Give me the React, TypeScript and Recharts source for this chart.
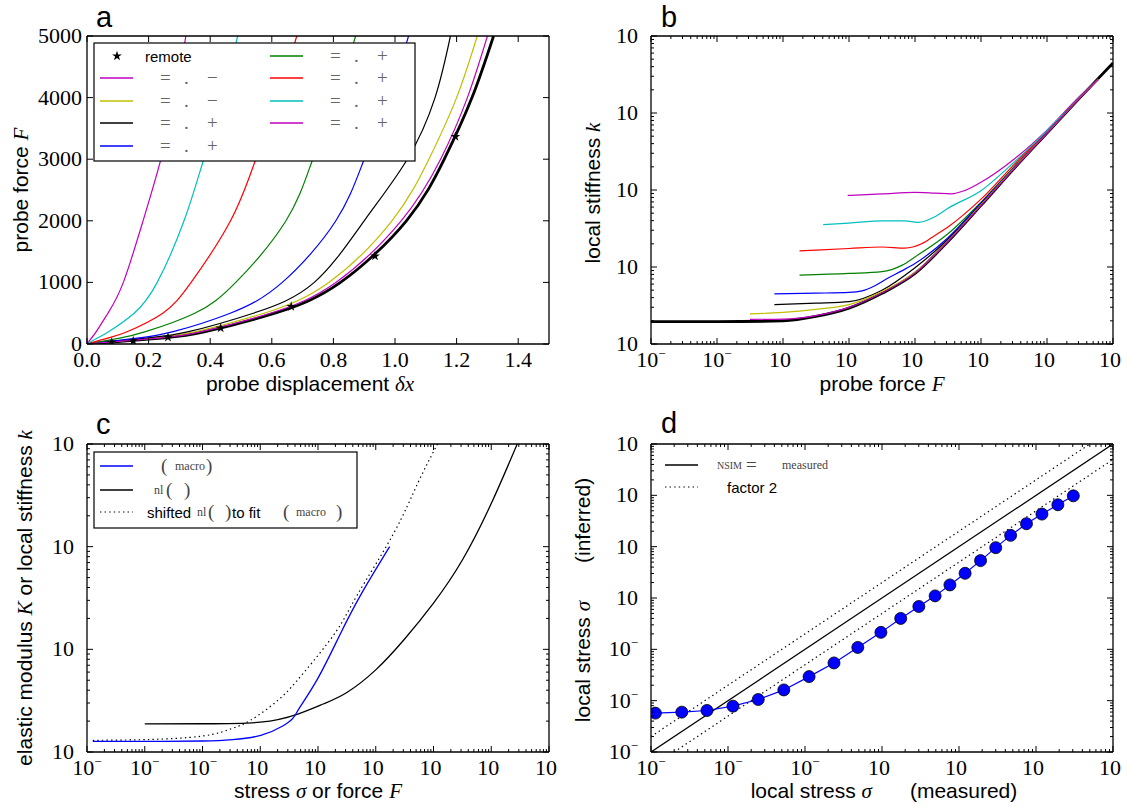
import React from "react";
import { ComposedChart, Line, Scatter, XAxis, YAxis, Symbols } from "recharts";

const PAGE_W = 1127;
const PAGE_H = 810;

const C = {
  b: "#0000ff",
  g: "#008000",
  r: "#ff0000",
  c: "#00bfbf",
  m: "#bf00bf",
  y: "#bfbf00",
  k: "#000000",
};

const SERIF = "'Liberation Serif', 'DejaVu Serif', serif";
const SANS = "'Liberation Sans', Arial, sans-serif";
const GRAY = "#666";

// ---- panel a: probe force F against probe displacement dx ----
const aForce = [0, 100, 200, 500, 1000, 2000, 3000, 4000, 5000];
const aDxMagenta1 = [0, 0.015, 0.03, 0.068, 0.118, 0.182, 0.24, 0.285, 0.321];
const aDxCyan = [0, 0.035, 0.07, 0.153, 0.228, 0.315, 0.379, 0.44, 0.489];
const aDxRed = [0, 0.07, 0.13, 0.246, 0.338, 0.466, 0.548, 0.62, 0.681];
const aDxGreen = [0, 0.11, 0.19, 0.35, 0.483, 0.646, 0.733, 0.81, 0.872];
const aDxBlue = [0, 0.17, 0.28, 0.465, 0.634, 0.808, 0.9, 0.98, 1.044];
const aDxBlack = [0, 0.2, 0.33, 0.54, 0.738, 0.9, 1.04, 1.13, 1.18];
const aDxYellow = [0, 0.22, 0.355, 0.575, 0.785, 0.99, 1.11, 1.2, 1.267];
const aDxMagenta2 = [0, 0.24, 0.372, 0.595, 0.808, 1.02, 1.148, 1.235, 1.3];
const aDxRemote = [0, 0.252, 0.384, 0.61, 0.823, 1.037, 1.16, 1.25, 1.32];
const aStarDx = [0.08, 0.15, 0.263, 0.434, 0.663, 0.935, 1.196];
const aStarF = [25, 50, 108, 259, 609, 1428, 3368];
const aXTicks = [0, 0.2, 0.4, 0.6, 0.8, 1.0, 1.2, 1.4];
const aXLabels = ["0.0", "0.2", "0.4", "0.6", "0.8", "1.0", "1.2", "1.4"];
const aYTicks = [0, 1000, 2000, 3000, 4000, 5000];
const aYLabels = ["0", "1000", "2000", "3000", "4000", "5000"];

// ---- panel b: local stiffness k against probe force F ----
const bXExp = [-2, -1, 0, 1, 2, 3, 4, 5];
const bYExp = [0, 1, 2, 3, 4];
const bRemoteF = [0.01, 0.1, 1, 3.16, 10, 31.6, 100, 316, 1000, 3162, 10000, 31620, 100000];
const bRemoteK = [1.95, 1.95, 2.0, 2.28, 2.92, 4.55, 8.24, 21.4, 63.1, 190, 550, 1585, 4467];
const bMagenta2F = [0.316, 1, 3.16, 10, 31.6, 100, 316, 1000, 3162, 10000, 31620, 60000];
const bMagenta2K = [2.09, 2.11, 2.34, 2.99, 4.62, 8.32, 21.6, 63.1, 190, 550, 1585, 2750];
const bYellowF = [0.316, 1, 3.16, 10, 31.6, 100, 316, 1000, 3162, 10000, 31620, 60000];
const bYellowK = [2.46, 2.57, 2.82, 3.24, 4.79, 8.5, 21.9, 64.6, 192, 552, 1590, 2750];
const bBlackF = [0.74, 3.16, 10, 31.6, 100, 316, 1000, 3162, 10000, 31620, 60000];
const bBlackK = [3.24, 3.39, 3.55, 5.0, 9.8, 22.9, 66, 193, 552, 1590, 2750];
const bBlueF = [0.74, 3.16, 10, 15.8, 25.1, 39.8, 63, 100, 316, 1000, 3162, 10000, 31620, 60000];
const bBlueK = [4.47, 4.57, 4.68, 4.9, 5.75, 7.24, 8.9, 11.1, 24, 68, 195, 555, 1590, 2750];
const bGreenF = [1.78, 10, 31.6, 63, 100, 316, 1000, 3162, 10000, 31620, 60000];
const bGreenK = [7.85, 8.24, 8.7, 10.5, 13.5, 27, 69.2, 200, 555, 1590, 2750];
const bRedF = [1.78, 10, 31.6, 70, 126, 200, 316, 1000, 3162, 10000, 31620, 60000];
const bRedK = [16.2, 17.4, 18.2, 17.6, 20, 25.7, 33.1, 76, 214, 565, 1590, 2750];
const bCyanF = [4.07, 10, 31.6, 70, 112, 200, 316, 1000, 3162, 10000, 31620, 60000];
const bCyanK = [35.5, 37.2, 39.8, 39.8, 38, 45, 58, 98, 229, 589, 1622, 2750];
const bMagenta1F = [9.55, 31.6, 100, 200, 355, 562, 1000, 3162, 10000, 31620, 60000];
const bMagenta1K = [85, 89, 93, 91, 89, 98, 126, 251, 600, 1660, 2750];

// ---- panel c: modulus K(sigma_macro) and stiffness k_nl(F) ----
const cXExp = [-3, -2, -1, 0, 1, 2, 3, 4, 5];
const cYExp = [0, 1, 2, 3];
const cMacroS = [0.00126, 0.01, 0.1, 0.33, 1.02, 2.4, 3.7, 4.9, 10, 23.4, 55, 174];
const cMacroK = [1.27, 1.27, 1.28, 1.32, 1.45, 1.78, 2.14, 2.75, 5.25, 13.5, 33.9, 100];
const cNlF = [0.01, 0.1, 1, 4.47, 12.6, 31.6, 100, 316, 1000, 3162, 10000, 28200];
const cNlK = [1.875, 1.884, 1.95, 2.34, 2.95, 3.8, 6.31, 12.6, 28.2, 74.1, 263, 1000];
const cShiftF = [0.00126, 0.01, 0.1, 0.33, 0.68, 2.09, 5.62, 20.4, 47.9, 200, 537, 1175];
const cShiftK = [1.3, 1.32, 1.43, 1.7, 2.04, 3.24, 5.89, 14.8, 33.9, 132, 417, 1000];

// ---- panel d: inferred against measured local stress ----
const dXExp = [-3, -2, -1, 0, 1, 2, 3];
const dYExp = [-3, -2, -1, 0, 1, 2, 3];
const dMeasured = [
  0.00114, 0.00251, 0.00533, 0.0116, 0.0247, 0.0531, 0.113, 0.238, 0.485, 0.968, 1.75,
  3.01, 4.9, 7.62, 12.0, 19.05, 30.0, 46.8, 75.2, 119.4, 192.3, 305.5,
];
const dInferred = [
  0.00572, 0.00598, 0.00644, 0.00782, 0.01054, 0.0162, 0.0294, 0.0543, 0.109, 0.214, 0.4,
  0.684, 1.1, 1.8, 3.03, 5.35, 9.57, 16.6, 28.0, 43.1, 65.5, 97.7,
];
const dEqualX = [0.001, 1000];
const dEqualY = [0.001, 1000];
const dUpperX = [0.001, 500];
const dUpperY = [0.002, 1000];
const dLowerX = [0.002, 1000];
const dLowerY = [0.001, 500];

const pts = (xs: number[], ys: number[]) => xs.map((x, i) => ({ x, y: ys[i] }));

const isDecade = (v: number) => Math.abs(Math.log10(v) - Math.round(Math.log10(v))) < 1e-6;

function logTicks(exps: number[]) {
  const out: number[] = [];
  exps.forEach((e, i) => {
    out.push(Math.pow(10, e));
    if (i < exps.length - 1) {
      for (let k = 2; k < 10; k++) out.push(+(k * Math.pow(10, e)).toPrecision(6));
    }
  });
  return out;
}

type Spec = {
  log: boolean;
  domain: [number, number];
  ticks: number[];
  labels?: string[];
};

const linSpec = (ticks: number[], labels: string[], domain: [number, number]): Spec => ({
  log: false,
  domain,
  ticks,
  labels,
});
const logSpec = (exps: number[]): Spec => ({
  log: true,
  domain: [Math.pow(10, exps[0]), Math.pow(10, exps[exps.length - 1])],
  ticks: logTicks(exps),
});

function tickLabel(spec: Spec, v: number): React.ReactNode {
  if (!spec.log) return spec.labels ? spec.labels[spec.ticks.indexOf(v)] ?? null : null;
  if (!isDecade(v)) return null;
  const e = Math.round(Math.log10(v));
  if (e < 0)
    return (
      <>
        10
        <tspan dy={-9} fontSize={13}>
          −
        </tspan>
      </>
    );
  return "10";
}

function makeTick(side: "bottom" | "top" | "left" | "right", spec: Spec) {
  return (p: any) => {
    const v = p.payload.value;
    const major = !spec.log || isDecade(v);
    const len = major ? 6 : 3;
    const { x, y } = p;
    const l = { x1: x, y1: y, x2: x, y2: y };
    if (side === "bottom") l.y2 = y - len;
    if (side === "top") l.y2 = y + len;
    if (side === "left") l.x2 = x + len;
    if (side === "right") l.x2 = x - len;
    let label: React.ReactNode = null;
    if (side === "bottom" || side === "left") {
      const txt = tickLabel(spec, v);
      if (txt !== null && txt !== undefined) {
        const neg = spec.log && Math.log10(v) < -0.5;
        if (side === "bottom") {
          label = (
            <text x={x + (spec.log && !neg ? -3 : 0)} y={y + 23} textAnchor="middle" fontFamily={SERIF} fontSize={22} fill="#000">
              {txt}
            </text>
          );
        } else {
          label = (
            <text x={x - (spec.log ? 13 : 5)} y={y + 7} textAnchor="end" fontFamily={SERIF} fontSize={22} fill="#000">
              {txt}
            </text>
          );
        }
      }
    }
    return (
      <g>
        <line {...l} stroke="#000" strokeWidth={1} />
        {label}
      </g>
    );
  };
}

const AXIS_LINE = { stroke: "#000", strokeWidth: 1.3 };

function Panel({ box, xs, ys, children }: { box: number[]; xs: Spec; ys: Spec; children: React.ReactNode }) {
  const [L, T, R, B] = box;
  const margin = { top: T - 10, right: PAGE_W - R - 10, bottom: PAGE_H - B - 30, left: L - 40 };
  const common = {
    type: "number" as const,
    interval: 0 as const,
    allowDataOverflow: true,
    tickSize: 0,
    tickMargin: 0,
    tickLine: false,
    axisLine: AXIS_LINE,
  };
  return (
    <div style={{ position: "absolute", left: 0, top: 0 }}>
      <ComposedChart width={PAGE_W} height={PAGE_H} margin={margin}>
        <XAxis {...common} dataKey="x" scale={xs.log ? "log" : "linear"} domain={xs.domain} ticks={xs.ticks} height={30} tick={makeTick("bottom", xs)} />
        <XAxis {...common} xAxisId="top" orientation="top" dataKey="x" scale={xs.log ? "log" : "linear"} domain={xs.domain} ticks={xs.ticks} height={10} tick={makeTick("top", xs)} />
        <YAxis {...common} dataKey="y" scale={ys.log ? "log" : "linear"} domain={ys.domain} ticks={ys.ticks} width={40} tick={makeTick("left", ys)} />
        <YAxis {...common} yAxisId="right" orientation="right" dataKey="y" scale={ys.log ? "log" : "linear"} domain={ys.domain} ticks={ys.ticks} width={10} tick={makeTick("right", ys)} />
        {children}
      </ComposedChart>
    </div>
  );
}

const A_BOX = [87, 36, 549, 344];
const B_BOX = [651, 36, 1113, 344];
const C_BOX = [87, 444, 549, 752];
const D_BOX = [651, 444, 1113, 752];

const aCurves = [
  { dx: aDxRemote, color: C.k, w: 2.8 },
  { dx: aDxMagenta1, color: C.m, w: 1.2 },
  { dx: aDxYellow, color: C.y, w: 1.2 },
  { dx: aDxBlack, color: C.k, w: 1.2 },
  { dx: aDxBlue, color: C.b, w: 1.2 },
  { dx: aDxGreen, color: C.g, w: 1.2 },
  { dx: aDxRed, color: C.r, w: 1.2 },
  { dx: aDxCyan, color: C.c, w: 1.2 },
  { dx: aDxMagenta2, color: C.m, w: 1.2 },
];

const bCurves = [
  { f: bRemoteF, k: bRemoteK, color: C.k, w: 2.8 },
  { f: bMagenta1F, k: bMagenta1K, color: C.m, w: 1.2 },
  { f: bCyanF, k: bCyanK, color: C.c, w: 1.2 },
  { f: bRedF, k: bRedK, color: C.r, w: 1.2 },
  { f: bGreenF, k: bGreenK, color: C.g, w: 1.2 },
  { f: bBlueF, k: bBlueK, color: C.b, w: 1.2 },
  { f: bBlackF, k: bBlackK, color: C.k, w: 1.2 },
  { f: bYellowF, k: bYellowK, color: C.y, w: 1.2 },
  { f: bMagenta2F, k: bMagenta2K, color: C.m, w: 1.2 },
];

const starShape = (p: any) => <Symbols cx={p.cx} cy={p.cy} type="star" size={30} fill="#000" />;

const DOTS = "1.4 3.2";

function Overlay() {
  const sub = (x: number, y: number, s: string, size = 12) => (
    <text x={x} y={y + 4} fontFamily={SERIF} fontSize={size} fill="#444">
      {s}
    </text>
  );
  const sym = (x: number, y: number, s: string, fill = "#444") => (
    <text x={x} y={y + 6} fontFamily={SERIF} fontSize={19} fill={fill}>
      {s}
    </text>
  );
  const aRows = [56, 78, 101, 123, 146];
  const aLeft = [
    { color: C.m, sign: "−" },
    { color: C.y, sign: "−" },
    { color: C.k, sign: "+" },
    { color: C.b, sign: "+" },
  ];
  const aRight = [
    { color: C.g, sign: "+" },
    { color: C.r, sign: "+" },
    { color: C.c, sign: "+" },
    { color: C.m, sign: "+" },
  ];
  const it = { fontFamily: SERIF, fontStyle: "italic" as const };
  return (
    <svg width={PAGE_W} height={PAGE_H} style={{ position: "absolute", left: 0, top: 0 }}>
      {/* panel letters */}
      <g fontFamily={SANS} fontSize={29} fill="#000">
        <text x={96} y={27}>a</text>
        <text x={661} y={27}>b</text>
        <text x={96} y={434}>c</text>
        <text x={661} y={433}>d</text>
      </g>
      {/* axis titles */}
      <g fontFamily={SANS} fontSize={21} fill="#000">
        <text x={310} y={391} textAnchor="middle">
          probe displacement <tspan {...it}>δx</tspan>
        </text>
        <text transform="rotate(-90)" x={-190} y={28} textAnchor="middle">
          probe force <tspan {...it}>F</tspan>
        </text>
        <text x={882} y={391} textAnchor="middle">
          probe force <tspan {...it}>F</tspan>
        </text>
        <text transform="rotate(-90)" x={-193} y={600} textAnchor="middle">
          local stiffness <tspan {...it}>k</tspan>
        </text>
        <text x={318} y={798} textAnchor="middle">
          stress <tspan {...it}>σ</tspan> or force <tspan {...it}>F</tspan>
        </text>
        <text transform="rotate(-90)" x={-598} y={32} textAnchor="middle">
          elastic modulus <tspan {...it}>K</tspan> or local stiffness <tspan {...it}>k</tspan>
        </text>
        <text x={884} y={798} textAnchor="middle">
          local stress <tspan {...it}>σ</tspan>
          <tspan dx={38}>(measured)</tspan>
        </text>
        <text transform="rotate(-90)" x={-600} y={590} textAnchor="middle">
          local stress <tspan {...it}>σ</tspan>
          <tspan dx={38}>(inferred)</tspan>
        </text>
      </g>

      {/* legend a */}
      <rect x={94} y={43} width={321} height={118} fill="#fff" stroke="#000" strokeWidth={1.2} />
      <Symbols cx={117} cy={aRows[0]} type="star" size={30} fill="#000" />
      <text x={145} y={aRows[0] + 6} fontFamily={SANS} fontSize={15}>
        remote
      </text>
      {aLeft.map((e, i) => (
        <g key={"l" + i}>
          <line x1={100} x2={133} y1={aRows[i + 1]} y2={aRows[i + 1]} stroke={e.color} strokeWidth={1.5} />
          {sym(160, aRows[i + 1], "=", GRAY)}
          {sym(184, aRows[i + 1], ".", GRAY)}
          {sym(207, aRows[i + 1], e.sign, GRAY)}
        </g>
      ))}
      {aRight.map((e, i) => (
        <g key={"r" + i}>
          <line x1={270} x2={303} y1={aRows[i]} y2={aRows[i]} stroke={e.color} strokeWidth={1.5} />
          {sym(330, aRows[i], "=", GRAY)}
          {sym(354, aRows[i], ".", GRAY)}
          {sym(377, aRows[i], e.sign, GRAY)}
        </g>
      ))}

      {/* legend c */}
      <rect x={94} y={452} width={263} height={76} fill="#fff" stroke="#000" strokeWidth={1.2} />
      <line x1={100} x2={133} y1={466} y2={466} stroke={C.b} strokeWidth={1.5} />
      {sym(161, 466, "(")}
      {sub(175, 466, "macro")}
      {sym(206, 466, ")")}
      <line x1={100} x2={133} y1={490} y2={490} stroke={C.k} strokeWidth={1.5} />
      {sub(154, 490, "nl")}
      {sym(166, 490, "(")}
      {sym(184, 490, ")")}
      <line x1={100} x2={133} y1={512} y2={512} stroke={C.k} strokeWidth={1.2} strokeDasharray={DOTS} />
      <text x={147} y={518} fontFamily={SANS} fontSize={15}>
        shifted
      </text>
      {sub(197, 512, "nl")}
      {sym(208, 512, "(")}
      {sym(225, 512, ")")}
      <text x={232} y={518} fontFamily={SANS} fontSize={15}>
        to fit
      </text>
      {sym(283, 512, "(")}
      {sub(296, 512, "macro")}
      {sym(336, 512, ")")}

      {/* legend d */}
      <line x1={665} x2={698} y1={465} y2={465} stroke={C.k} strokeWidth={1.3} />
      {sub(717, 465, "NSIM", 10)}
      {sym(746, 465, "=")}
      {sub(782, 465, "measured")}
      <line x1={665} x2={698} y1={487} y2={487} stroke={C.k} strokeWidth={1.2} strokeDasharray={DOTS} />
      <text x={727} y={493} fontFamily={SANS} fontSize={15}>
        factor 2
      </text>
    </svg>
  );
}

export default function App() {
  return (
    <div style={{ position: "absolute", left: 0, top: 0, width: PAGE_W, height: PAGE_H, background: "#fff" }}>
      <Panel box={A_BOX} xs={linSpec(aXTicks, aXLabels, [0, 1.5])} ys={linSpec(aYTicks, aYLabels, [0, 5000])}>
        {aCurves.map((c, i) => (
          <Line key={"a" + i} data={pts(c.dx, aForce)} dataKey="y" type="natural" stroke={c.color} strokeWidth={c.w} dot={false} activeDot={false} isAnimationActive={false} />
        ))}
        <Scatter data={pts(aStarDx, aStarF)} dataKey="y" shape={starShape} isAnimationActive={false} />
      </Panel>
      <Panel box={B_BOX} xs={logSpec(bXExp)} ys={logSpec(bYExp)}>
        {bCurves.map((c, i) => (
          <Line key={"b" + i} data={pts(c.f, c.k)} dataKey="y" type="monotone" stroke={c.color} strokeWidth={c.w} dot={false} activeDot={false} isAnimationActive={false} />
        ))}
      </Panel>
      <Panel box={C_BOX} xs={logSpec(cXExp)} ys={logSpec(cYExp)}>
        <Line data={pts(cNlF, cNlK)} dataKey="y" type="natural" stroke={C.k} strokeWidth={1.3} dot={false} activeDot={false} isAnimationActive={false} />
        <Line data={pts(cShiftF, cShiftK)} dataKey="y" type="natural" stroke={C.k} strokeWidth={1.2} strokeDasharray={DOTS} dot={false} activeDot={false} isAnimationActive={false} />
        <Line data={pts(cMacroS, cMacroK)} dataKey="y" type="natural" stroke={C.b} strokeWidth={1.3} dot={false} activeDot={false} isAnimationActive={false} />
      </Panel>
      <Panel box={D_BOX} xs={logSpec(dXExp)} ys={logSpec(dYExp)}>
        <Line data={pts(dEqualX, dEqualY)} dataKey="y" type="linear" stroke={C.k} strokeWidth={1.3} dot={false} activeDot={false} isAnimationActive={false} />
        <Line data={pts(dUpperX, dUpperY)} dataKey="y" type="linear" stroke={C.k} strokeWidth={1.2} strokeDasharray={DOTS} dot={false} activeDot={false} isAnimationActive={false} />
        <Line data={pts(dLowerX, dLowerY)} dataKey="y" type="linear" stroke={C.k} strokeWidth={1.2} strokeDasharray={DOTS} dot={false} activeDot={false} isAnimationActive={false} />
        <Line data={pts(dMeasured, dInferred)} dataKey="y" type="linear" stroke={C.b} strokeWidth={1.2} dot={{ r: 6, fill: C.b, stroke: "#000", strokeWidth: 0.8 }} activeDot={false} isAnimationActive={false} />
      </Panel>
      <Overlay />
    </div>
  );
}
